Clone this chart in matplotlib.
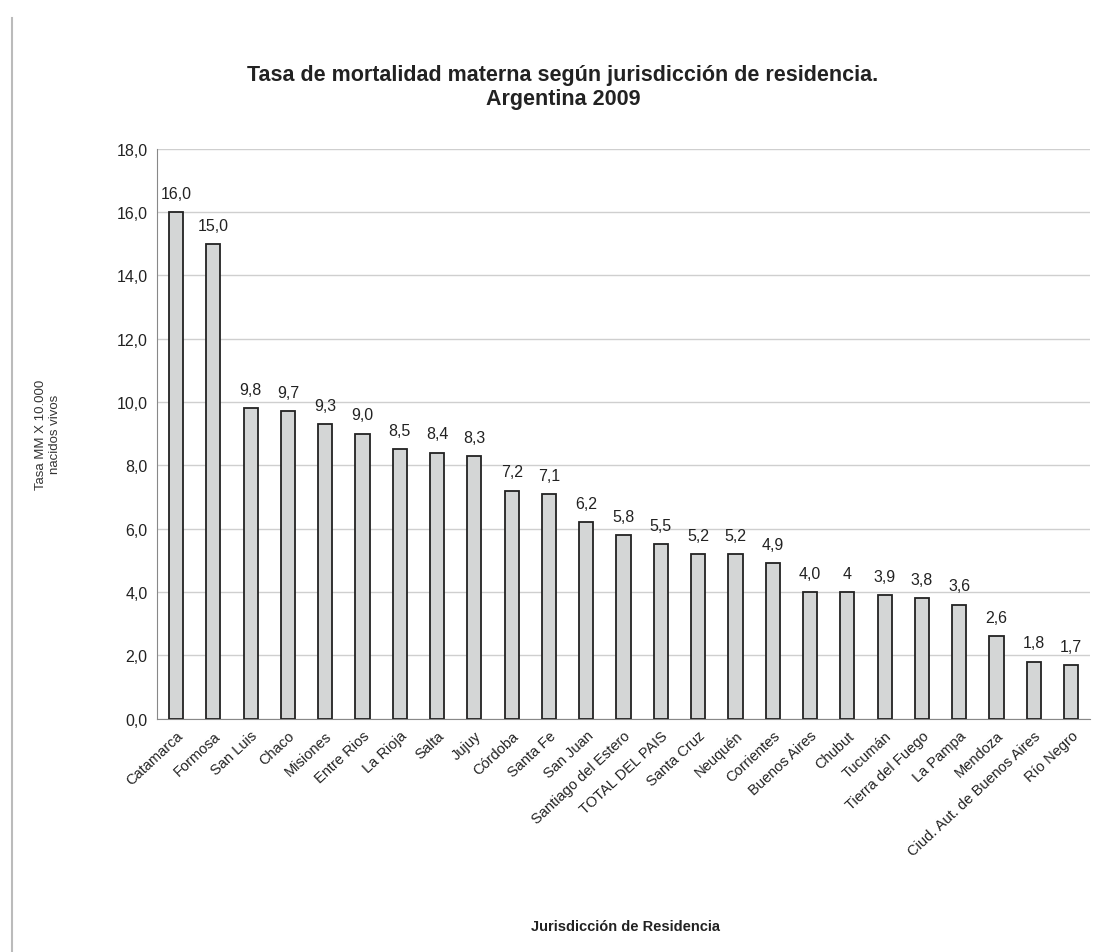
import matplotlib
matplotlib.use("Agg")
import matplotlib.pyplot as plt
from matplotlib.lines import Line2D

plt.rcParams["font.family"] = ["Liberation Sans", "DejaVu Sans"]

jurisdicciones = ["Catamarca", "Formosa", "San Luis", "Chaco", "Misiones", "Entre Rios",
                  "La Rioja", "Salta", "Jujuy", "Córdoba", "Santa Fe", "San Juan",
                  "Santiago del Estero", "TOTAL DEL PAIS", "Santa Cruz", "Neuquén",
                  "Corrientes", "Buenos Aires", "Chubut", "Tucumán", "Tierra del Fuego",
                  "La Pampa", "Mendoza", "Ciud. Aut. de Buenos Aires", "Río Negro"]
tasas = [16.0, 15.0, 9.8, 9.7, 9.3, 9.0, 8.5, 8.4, 8.3, 7.2, 7.1, 6.2, 5.8, 5.5,
         5.2, 5.2, 4.9, 4.0, 4.0, 3.9, 3.8, 3.6, 2.6, 1.8, 1.7]
etiquetas = ["16,0", "15,0", "9,8", "9,7", "9,3", "9,0", "8,5", "8,4", "8,3", "7,2",
             "7,1", "6,2", "5,8", "5,5", "5,2", "5,2", "4,9", "4,0", "4", "3,9", "3,8",
             "3,6", "2,6", "1,8", "1,7"]
yticks = [0, 2, 4, 6, 8, 10, 12, 14, 16, 18]

fig = plt.figure(figsize=(10.93, 9.53), dpi=100)
ax = fig.add_axes([0.144, 0.245, 0.853, 0.598])

x = range(len(tasas))
ax.bar(x, tasas, width=0.38, color="#d4d6d6", edgecolor="#222222", linewidth=1.3, zorder=3)
for xi, v, lab in zip(x, tasas, etiquetas):
    ax.text(xi, v + 0.35, lab, ha="center", va="bottom", fontsize=11.5, color="#222222")

ax.set_xlim(-0.5, len(tasas) - 0.5)
ax.set_ylim(0, 18)
ax.set_yticks(yticks)
ax.set_yticklabels([f"{t:.1f}".replace(".", ",") for t in yticks], fontsize=11.5, color="#222222")
ax.set_xticks(list(x))
ax.set_xticklabels(jurisdicciones, rotation=43, ha="right", rotation_mode="anchor",
                   fontsize=10.5, color="#222222")
ax.tick_params(axis="both", length=0, pad=7)
ax.grid(axis="y", color="#cfcfcf", linewidth=1.0, zorder=0)
for side in ["top", "right"]:
    ax.spines[side].set_visible(False)
ax.spines["left"].set_color("#888888")
ax.spines["bottom"].set_color("#888888")

ax.set_ylabel("Tasa MM X 10.000\nnacidos vivos", fontsize=9.5, color="#333333", labelpad=40)
fig.text(0.515, 0.908, "Tasa de mortalidad materna según jurisdicción de residencia.\nArgentina 2009",
         ha="center", va="center", fontsize=15.5, fontweight="bold", color="#222222",
         linespacing=1.2)
fig.text(0.572, 0.027, "Jurisdicción de Residencia", ha="center", va="center",
         fontsize=10.5, fontweight="bold", color="#222222")

# scan border on the left
fig.add_artist(Line2D([0.011, 0.011], [0.0, 0.98], transform=fig.transFigure,
                      color="#bbbbbb", linewidth=1.5))

fig.savefig("out.png", dpi=100)
